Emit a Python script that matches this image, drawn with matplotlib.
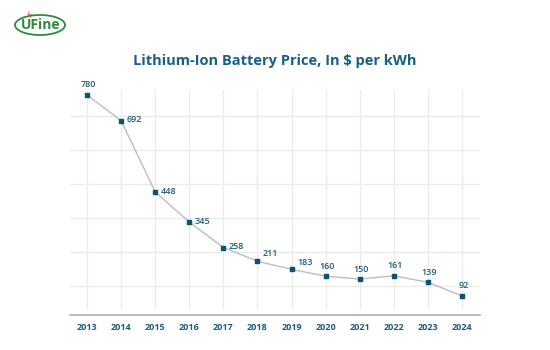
import matplotlib.pyplot as plt
from matplotlib.patches import Ellipse

years = [2013, 2014, 2015, 2016, 2017, 2018, 2019, 2020, 2021, 2022, 2023, 2024]
prices = [780, 692, 448, 345, 258, 211, 183, 160, 150, 161, 139, 92]
# where each value label sits relative to its marker
label_pos = ["top", "right", "right", "right", "right", "upright", "upright",
             "top", "top", "top", "top", "top"]

grid_y = [126, 242, 359, 475, 592, 708]

text_col = "#1d5c7c"
marker_col = "#0e5472"

plt.rcParams['font.family'] = ['Open Sans', 'DejaVu Sans']

fig = plt.figure(figsize=(5.5, 3.5), dpi=100)
ax = fig.add_axes([70 / 550, 1 - 315 / 350, 410 / 550, 225 / 350])

ax.set_xlim(2012.5, 2024.53)
ax.set_ylim(27, 797)

# grid
for gy in grid_y:
    ax.axhline(gy, color="#ebebeb", lw=0.9, zorder=0)
for yr in years:
    ax.axvline(yr, ymin=0.03, ymax=1, color="#ebebeb", lw=0.9, zorder=0)

ax.plot(years, prices, color="#bdbdbd", lw=1.0, zorder=2)
ax.scatter(years, prices, marker="s", s=7, color=marker_col, zorder=3)

for yr, p, pos in zip(years, prices, label_pos):
    if pos == "top":
        ax.annotate(str(p), (yr, p), xytext=(1, 4), textcoords="offset points",
                    ha="center", va="bottom", fontsize=6.5, color=text_col,
                    fontweight="semibold")
    elif pos == "right":
        ax.annotate(str(p), (yr, p), xytext=(4, 0.5), textcoords="offset points",
                    ha="left", va="center", fontsize=6.5, color=text_col,
                    fontweight="semibold")
    else:
        ax.annotate(str(p), (yr, p), xytext=(4, 2), textcoords="offset points",
                    ha="left", va="bottom", fontsize=6.5, color=text_col,
                    fontweight="semibold")

for s in ["top", "right", "left"]:
    ax.spines[s].set_visible(False)
ax.spines["bottom"].set_color("#a8a8a8")
ax.spines["bottom"].set_linewidth(1.1)
ax.set_yticks([])
ax.set_xticks(years)
ax.set_xticklabels([str(y) for y in years], fontsize=6.5, fontweight="bold",
                   color=text_col)
ax.tick_params(axis="x", length=0, pad=6)

fig.text(0.5, 1 - 61 / 350, "Lithium-Ion Battery Price, In $ per kWh",
         ha="center", va="center", fontsize=10.5, fontweight="bold",
         color="#1a5f86")

# logo
green = "#2e8b3f"
fig.patches.append(Ellipse((40 / 550, 1 - 25 / 350), 50 / 550, 20 / 350,
                           transform=fig.transFigure, fill=False,
                           edgecolor=green, lw=1.3))
fig.text(41 / 550, 1 - 25 / 350, "UFine", ha="center", va="center",
         fontsize=10, fontweight="bold", color=green)
fig.text(29 / 550, 1 - 16 / 350, "\u03df", ha="center", va="center",
         fontsize=6, color="#e0562a")

fig.savefig("out.png", dpi=100)
